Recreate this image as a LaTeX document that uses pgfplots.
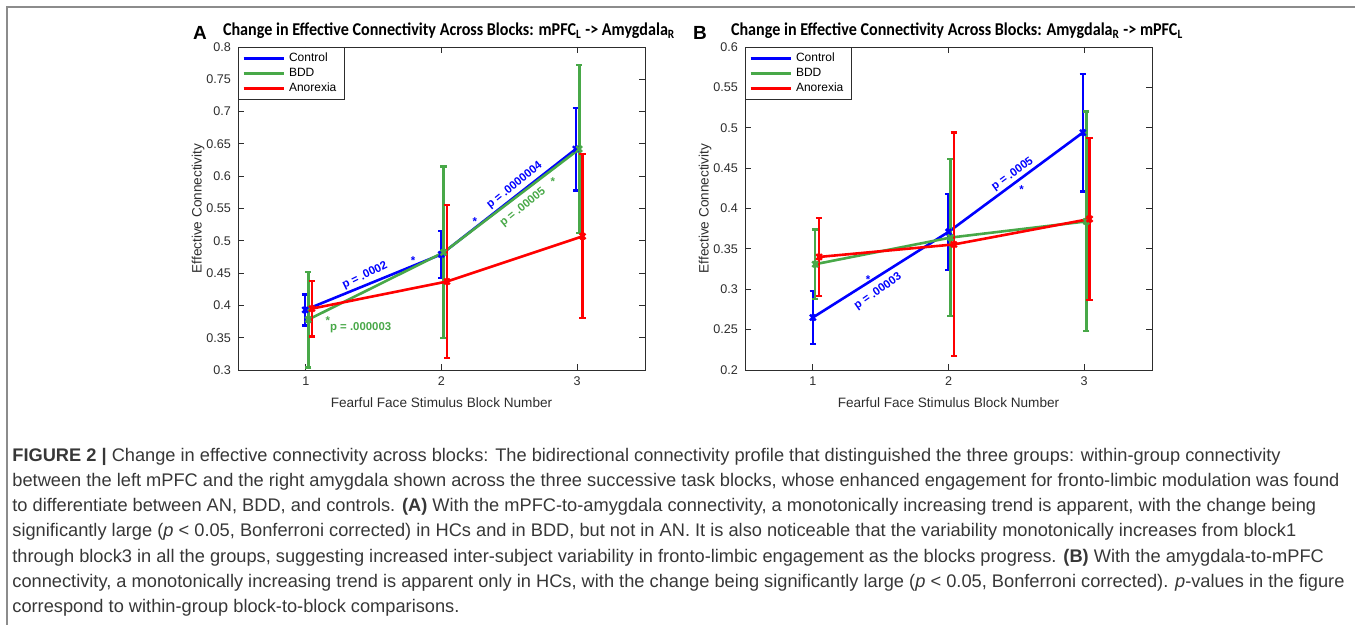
\documentclass[border=0pt]{standalone}
\usepackage{fontspec}
\setmainfont{Liberation Sans}
\newfontfamily\calibri{Carlito}
\usepackage{pgfplots}
\pgfplotsset{compat=1.18}

\definecolor{cblue}{RGB}{0,0,255}
\definecolor{cgreen}{RGB}{72,168,72}
\definecolor{cred}{RGB}{255,0,0}
\definecolor{axgray}{RGB}{45,45,45}
\definecolor{capgray}{RGB}{55,55,55}

\tikzset{ann/.style={font=\bfseries\fontsize{5.7}{6}\selectfont}}

\pgfplotsset{
  conn/.style={
    scale only axis, width=203.5pt, height=161.5pt,
    xmin=0.5, xmax=3.5, xtick={1,2,3},
    axis line style={axgray, line width=0.4pt},
    tick style={axgray, line width=0.4pt}, major tick length=3pt,
    ticklabel style={font=\fontsize{6.3}{7}\selectfont, text=axgray},
    /pgf/number format/assume math mode=true,
    yticklabel style={/pgf/number format/fixed, /pgf/number format/precision=2},
    xlabel={Fearful Face Stimulus Block Number},
    ylabel={Effective Connectivity},
    label style={font=\fontsize{6.8}{8}\selectfont, text=axgray},
    xlabel style={at={(axis description cs:0.5,-0.102)}, anchor=center},
    ylabel style={at={(axis description cs:-0.098,0.5)}, anchor=center},
    legend image code/.code={\draw[#1] (0pt,0pt) -- (20pt,0pt);},
    legend style={at={(0,1)}, anchor=north west, draw=axgray, line width=0.4pt,
      font=\fontsize{6}{7}\selectfont, text=black, inner xsep=2pt, inner ysep=0.5pt,
      row sep=-2.1pt, cells={anchor=west}},
  },
  grp/.style={line width=1.3pt, mark=x, mark size=2pt, mark options={solid, line width=1.2pt},
    error bars/y dir=both, error bars/y explicit,
    error bars/error bar style={line width=1.3pt},
    error bars/error mark options={line width=1.1pt, mark size=1.6pt, rotate=90}},
}

\begin{document}
\begin{tikzpicture}[x=0.5pt, y=-0.5pt]
\path[use as bounding box] (0,0) rectangle (1355,625);
\draw[black!45, line width=0.6pt] (7,625) -- (7,7) -- (1355,7);

\coordinate (pa) at (238,370);
\coordinate (pb) at (745,370);

% panel A
\node[font=\bfseries\fontsize{9.5}{10}\selectfont] at (200,33) {A};
\node[anchor=west] at (216,31) {\scalebox{1}[1.12]{\resizebox{226pt}{!}{\calibri\bfseries Change in Effective Connectivity Across Blocks: mPFC\textsubscript{L} -> Amygdala\textsubscript{R}}}};

\begin{axis}[conn, at={(pa)}, anchor=south west,
  ymin=0.3, ymax=0.8, ytick={0.3,0.35,0.4,0.45,0.5,0.55,0.6,0.65,0.7,0.75,0.8}]
\addlegendimage{cblue, line width=1.3pt}\addlegendentry{Control}
\addlegendimage{cgreen, line width=1.3pt}\addlegendentry{BDD}
\addlegendimage{cred, line width=1.3pt}\addlegendentry{Anorexia}
\addplot[grp, cblue, forget plot] coordinates {
  (0.995,0.393) +- (0,0.024)
  (1.998,0.479) +- (0,0.036)
  (2.99,0.642)  +- (0,0.064)
};
\addplot[grp, cgreen, forget plot] coordinates {
  (1.018,0.378) +- (0,0.074)
  (2.015,0.482) +- (0,0.133)
  (3.015,0.642) +- (0,0.130)
};
\addplot[grp, cred, forget plot] coordinates {
  (1.045,0.395) +- (0,0.043)
  (2.04,0.437)  +- (0,0.119)
  (3.04,0.507)  +- (0,0.127)
};
\node[ann, text=cblue, rotate=26] at (1.436,0.446) {p = .0002};
\node[ann, text=cblue] at (1.791,0.470) {*};
\node[ann, text=cblue, rotate=39] at (2.539,0.5857) {p = .0000004};
\node[ann, text=cblue] at (2.245,0.530) {*};
\node[ann, text=cgreen, rotate=39] at (2.60,0.552) {p = .00005};
\node[ann, text=cgreen] at (2.82,0.591) {*};
\node[ann, text=cgreen] at (1.162,0.376) {*};
\node[ann, text=cgreen] at (1.404,0.366) {p = .000003};
\end{axis}

% panel B
\node[font=\bfseries\fontsize{9.5}{10}\selectfont] at (700,33) {B};
\node[anchor=west] at (724,31) {\scalebox{1}[1.12]{\resizebox{226pt}{!}{\calibri\bfseries Change in Effective Connectivity Across Blocks: Amygdala\textsubscript{R} -> mPFC\textsubscript{L}}}};

\begin{axis}[conn, at={(pb)}, anchor=south west,
  ymin=0.2, ymax=0.6, ytick={0.2,0.25,0.3,0.35,0.4,0.45,0.5,0.55,0.6}]
\addlegendimage{cblue, line width=1.3pt}\addlegendentry{Control}
\addlegendimage{cgreen, line width=1.3pt}\addlegendentry{BDD}
\addlegendimage{cred, line width=1.3pt}\addlegendentry{Anorexia}
\addplot[grp, cblue, forget plot] coordinates {
  (1.0,0.265)   +- (0,0.0325)
  (2.0,0.371)   +- (0,0.047)
  (2.99,0.494)  +- (0,0.073)
};
\addplot[grp, cgreen, forget plot] coordinates {
  (1.017,0.331) +- (0,0.043)
  (2.015,0.364) +- (0,0.097)
  (3.015,0.384) +- (0,0.136)
};
\addplot[grp, cred, forget plot] coordinates {
  (1.046,0.340) +- (0,0.048)
  (2.04,0.3555) +- (0,0.1385)
  (3.04,0.387)  +- (0,0.100)
};
\node[ann, text=cblue] at (1.407,0.312) {*};
\node[ann, text=cblue, rotate=35] at (1.481,0.297) {p = .00003};
\node[ann, text=cblue, rotate=36] at (2.472,0.4424) {p = .0005};
\node[ann, text=cblue] at (2.538,0.424) {*};
\end{axis}

% caption
\begin{scope}[every node/.style={anchor=base west, text=capgray, font=\fontsize{9.12}{10}\selectfont, inner sep=0pt}]
\node at (12,462) {\textbf{FIGURE 2 |} Change in effective connectivity across blocks: The bidirectional connectivity profile that distinguished the three groups: within-group connectivity};
\node at (12,487) {between the left mPFC and the right amygdala shown across the three successive task blocks, whose enhanced engagement for fronto-limbic modulation was found};
\node at (12,512) {to differentiate between AN, BDD, and controls. \textbf{(A)} With the mPFC-to-amygdala connectivity, a monotonically increasing trend is apparent, with the change being};
\node at (12,537) {significantly large (\textit{p} < 0.05, Bonferroni corrected) in HCs and in BDD, but not in AN. It is also noticeable that the variability monotonically increases from block1};
\node at (12,562) {through block3 in all the groups, suggesting increased inter-subject variability in fronto-limbic engagement as the blocks progress. \textbf{(B)} With the amygdala-to-mPFC};
\node at (12,587) {connectivity, a monotonically increasing trend is apparent only in HCs, with the change being significantly large (\textit{p} < 0.05, Bonferroni corrected). \textit{p}-values in the figure};
\node at (12,612) {correspond to within-group block-to-block comparisons.};
\end{scope}
\end{tikzpicture}
\end{document}
